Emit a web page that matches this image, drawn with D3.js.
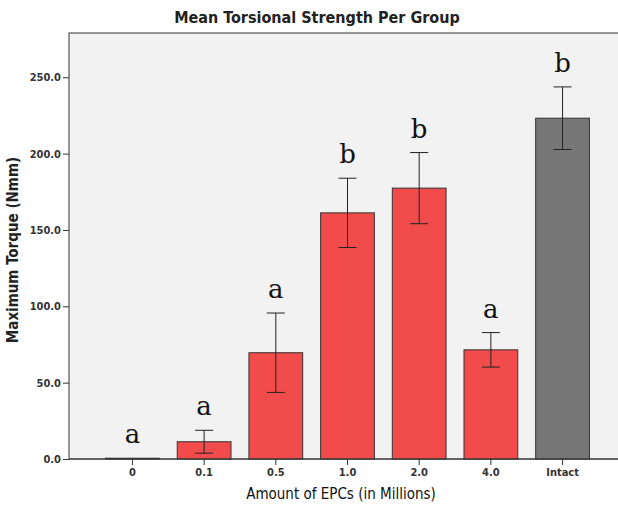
<!DOCTYPE html>
<html>
<head>
<meta charset="utf-8">
<script src="https://cdn.jsdelivr.net/npm/d3@7"></script>
<style>
  html, body { margin: 0; padding: 0; background: #ffffff; }
  svg { display: block; }
</style>
</head>
<body>
<svg id="chart" width="618" height="507"></svg>
<script>
// ---- data ----
const categories = ["0", "0.1", "0.5", "1.0", "2.0", "4.0", "Intact"];
const means      = [0.5, 11.3, 69.6, 161.2, 177.4, 71.5, 223.2];
const errors     = [0, 7.5, 26.0, 22.7, 23.3, 11.3, 20.5];
const letters    = ["a", "a", "a", "b", "b", "a", "b"];
const isControl  = [false, false, false, false, false, false, true];
const yTicks     = [0, 50, 100, 150, 200, 250];
const yMax       = 279;

const title  = "Mean Torsional Strength Per Group";
const xTitle = "Amount of EPCs (in Millions)";
const yTitle = "Maximum Torque (Nmm)";

// ---- layout ----
const plot = { left: 69, right: 626, top: 33, bottom: 459 };
const sansFont = "'DejaVu Sans Condensed', 'DejaVu Sans', sans-serif";

const svg = d3.select("#chart");

const x = d3.scaleBand()
  .domain(categories)
  .range([plot.left, plot.right])
  .paddingInner(0.25)
  .paddingOuter(0.51);

const y = d3.scaleLinear()
  .domain([0, yMax])
  .range([plot.bottom, plot.top]);

// plot background
svg.append("rect")
  .attr("x", plot.left).attr("y", plot.top)
  .attr("width", plot.right - plot.left)
  .attr("height", plot.bottom - plot.top)
  .attr("fill", "#f2f2f2")
  .attr("stroke", "#333")
  .attr("stroke-width", 1);

// bars
const rows = categories.map((c, i) => ({ c, m: means[i], e: errors[i], l: letters[i], ctrl: isControl[i] }));

svg.append("g").selectAll("rect")
  .data(rows)
  .join("rect")
  .attr("x", d => x(d.c))
  .attr("width", x.bandwidth())
  .attr("y", d => y(d.m))
  .attr("height", d => y(0) - y(d.m))
  .attr("fill", d => d.ctrl ? "#777777" : "#f14b4b")
  .attr("stroke", "#333")
  .attr("stroke-width", 1);

// error bars
const capW = 18;
const eg = svg.append("g").attr("stroke", "#222").attr("stroke-width", 1);
rows.filter(d => d.e > 0).forEach(d => {
  const cx = x(d.c) + x.bandwidth() / 2;
  eg.append("line").attr("x1", cx).attr("x2", cx).attr("y1", y(d.m + d.e)).attr("y2", y(d.m - d.e));
  eg.append("line").attr("x1", cx - capW / 2).attr("x2", cx + capW / 2).attr("y1", y(d.m + d.e)).attr("y2", y(d.m + d.e));
  eg.append("line").attr("x1", cx - capW / 2).attr("x2", cx + capW / 2).attr("y1", y(d.m - d.e)).attr("y2", y(d.m - d.e));
});

// significance letters
svg.append("g").selectAll("text")
  .data(rows)
  .join("text")
  .attr("x", d => x(d.c) + x.bandwidth() / 2)
  .attr("y", d => y(d.m + d.e) - 15)
  .attr("text-anchor", "middle")
  .attr("font-family", "'DejaVu Serif', serif")
  .attr("font-size", 26)
  .attr("fill", "#111")
  .text(d => d.l);

// y axis
const yAxis = d3.axisLeft(y)
  .tickValues(yTicks)
  .tickFormat(d3.format(".1f"))
  .tickSize(6)
  .tickPadding(2);
const yg = svg.append("g").attr("transform", `translate(${plot.left},0)`).call(yAxis);
yg.select(".domain").remove();
yg.selectAll("line").attr("stroke", "#333");
yg.selectAll("text")
  .attr("font-family", sansFont)
  .attr("font-size", 11)
  .attr("font-weight", "bold")
  .attr("fill", "#333");

// x axis
const xAxis = d3.axisBottom(x).tickSize(6).tickPadding(3);
const xg = svg.append("g").attr("transform", `translate(0,${plot.bottom})`).call(xAxis);
xg.select(".domain").remove();
xg.selectAll("line").attr("stroke", "#333");
xg.selectAll("text")
  .attr("font-family", sansFont)
  .attr("font-size", 11)
  .attr("font-weight", "bold")
  .attr("fill", "#333");

// baseline
svg.append("line")
  .attr("x1", plot.left).attr("x2", plot.right)
  .attr("y1", plot.bottom).attr("y2", plot.bottom)
  .attr("stroke", "#333");

// titles
svg.append("text")
  .attr("x", 317).attr("y", 23)
  .attr("text-anchor", "middle")
  .attr("font-family", sansFont)
  .attr("font-size", 16)
  .attr("font-weight", "bold")
  .attr("fill", "#222")
  .text(title);

svg.append("text")
  .attr("x", 341).attr("y", 499)
  .attr("text-anchor", "middle")
  .attr("font-family", sansFont)
  .attr("font-size", 15)
  .attr("fill", "#111")
  .text(xTitle);

svg.append("text")
  .attr("transform", "translate(18,250) rotate(-90)")
  .attr("text-anchor", "middle")
  .attr("font-family", sansFont)
  .attr("font-size", 15)
  .attr("font-weight", "bold")
  .attr("fill", "#222")
  .text(yTitle);
</script>
</body>
</html>
